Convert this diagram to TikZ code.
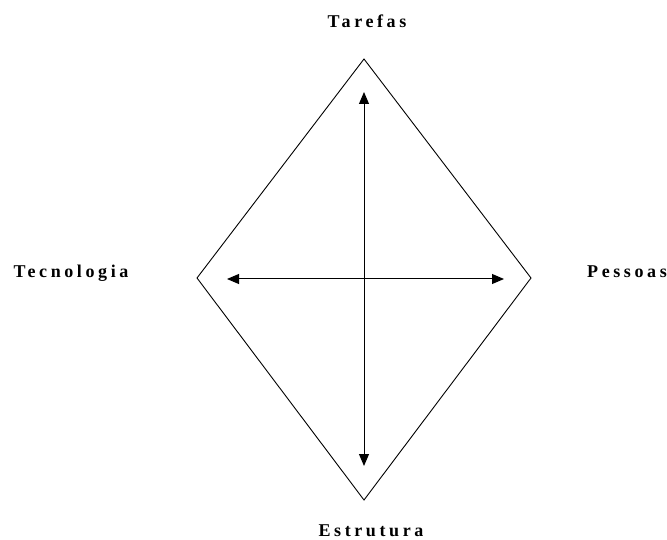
\documentclass[tikz,border=0pt]{standalone}
\usepackage{fontspec}
\setmainfont{Liberation Serif}
\usepackage{tikz}
\usetikzlibrary{arrows.meta,positioning,calc}

\begin{document}
\begin{tikzpicture}[x=1pt, y=-1pt,
  corner/.style={font=\fontsize{18}{20}\selectfont\bfseries\addfontfeatures{LetterSpace=20},
    anchor=base, inner sep=0pt},
  edge/.style={line width=0.9pt, line join=miter},
  arr/.style={{Triangle[length=12pt,width=10pt]}-{Triangle[length=12pt,width=10pt]}, line width=1pt}
]
\useasboundingbox (0,0) rectangle (667,540);

% Diamond
\coordinate (top) at (364,59);
\coordinate (right) at (531,278);
\coordinate (bottom) at (364,500);
\coordinate (left) at (197,278);
\draw[edge] (top) -- (right) -- (bottom) -- (left) -- cycle;

% Arrow ends
\coordinate (up) at (364,92);
\coordinate (down) at (364,466);
\coordinate (west) at (227,279);
\coordinate (east) at (504,279);

% Labels
\node[corner] (tarefas) at (367,28) {Tarefas};
\node[corner] (estrutura) at (371,536.5) {Estrutura};
\node[corner] (tecnologia) at (71,277) {Tecnologia};
\node[corner] (pessoas) at (627,277) {Pessoas};

% Arrows
\draw[arr] (up) -- (down);
\draw[arr] (west) -- (east);

\end{tikzpicture}
\end{document}
